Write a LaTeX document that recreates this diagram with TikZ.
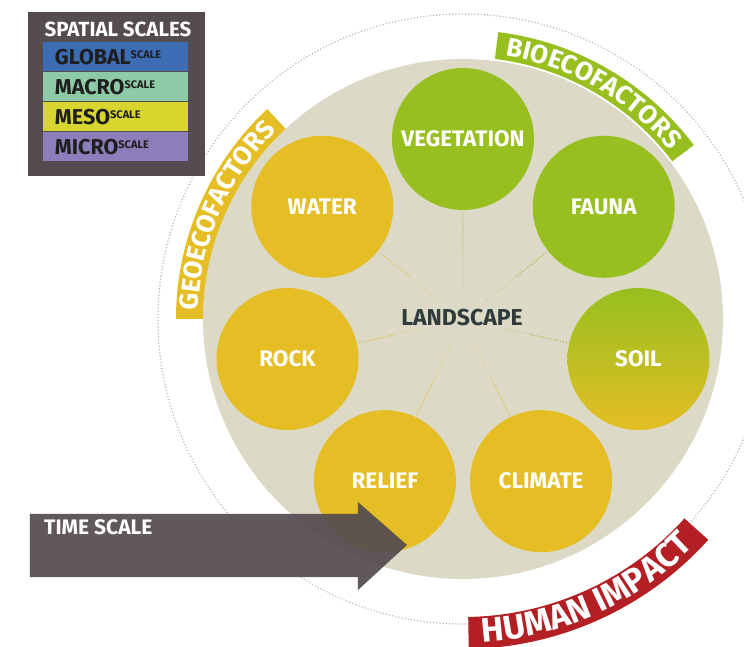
\documentclass[tikz,border=0pt]{standalone}
\usepackage{fontspec}
\setmainfont{Fira Sans}
\usetikzlibrary{decorations.text}
\definecolor{beige}{HTML}{DCD9C7}
\definecolor{ycol}{HTML}{E4BE24}
\definecolor{gcol}{HTML}{97BF1F}
\definecolor{dgray}{HTML}{544C50}
\definecolor{rcol}{HTML}{B41F24}
\definecolor{bluer}{HTML}{3B6CB4}
\definecolor{macror}{HTML}{8DCBA6}
\definecolor{mesor}{HTML}{D7D52E}
\definecolor{micror}{HTML}{8B7EBA}
\definecolor{ltext}{HTML}{2F3B3B}
\definecolor{legtext}{HTML}{1E1E1E}
\definecolor{dotgray}{HTML}{B8B8B8}
\newcommand\bannerfont{\color{white}\bfseries\fontsize{26}{26}\selectfont}
\newcommand\humanfont{\color{white}\bfseries\fontsize{34}{34}\selectfont}
\newcommand\supscale[1]{\raisebox{6pt}{\fontsize{11}{11}\selectfont #1}}
\begin{document}
\begin{tikzpicture}[x=1pt,y=1pt,
  fac/.style={circle, minimum size=142pt, inner sep=0pt, text=white,
    font=\bfseries\fontsize{22.5}{22.5}\selectfont},
  yfac/.style={fac, fill=ycol},
  gfac/.style={fac, fill=gcol},
  spoke/.style={line width=1.4pt, line cap=round, dash pattern=on 0pt off 3pt},
  rowbox/.style={minimum width=145pt, minimum height=29pt, inner sep=0pt},
  rowtxt/.style={anchor=west, text=legtext, inner sep=0pt,
    font=\bfseries\fontsize{21.5}{21.5}\selectfont},
  band/.style={decorate, decoration={text along path, text align=center}}
]
\useasboundingbox (-463,-328) rectangle (281,319);
\fill[white] (-463,-328) rectangle (281,319);

% outer dotted circle
\draw[dotgray, line width=1.6pt, line cap=round, dash pattern=on 0pt off 3.2pt] (0,0) circle[radius=305pt];

% landscape disc
\fill[beige] (0,0) circle[radius=260pt];

% banners
\fill[ycol] (133:260pt) arc[start angle=133, end angle=180, radius=260pt]
  -- (180:287pt) arc[start angle=180, end angle=133, radius=287pt] -- cycle;
\fill[gcol] (37:262pt) arc[start angle=37, end angle=83, radius=262pt]
  -- (83:289pt) arc[start angle=83, end angle=37, radius=289pt] -- cycle;
\fill[rcol] (-89:298pt) arc[start angle=-89, end angle=-42, radius=298pt]
  -- (-42:330pt) arc[start angle=-42, end angle=-89, radius=330pt] -- cycle;

\path[band, decoration={text={|\bannerfont|GEOECOFACTORS}}]
  (190:265pt) arc[start angle=190, end angle=123, radius=265pt];
\path[band, decoration={text={|\bannerfont|BIOECOFACTORS}}]
  (95:267pt) arc[start angle=95, end angle=25, radius=267pt];
\path[band, decoration={text={|\humanfont|HUMAN IMPACT}}]
  (-100:324pt) arc[start angle=-100, end angle=-31, radius=324pt];

% factor circles
\node[gfac] (veg) at (90:180pt) {VEGETATION};
\node[gfac] (fauna) at (38.57:180pt) {FAUNA};
\node[fac, top color=gcol, bottom color=ycol] (soil) at (-12.86:180pt) {SOIL};
\node[yfac] (climate) at (-64.29:180pt) {CLIMATE};
\node[yfac] (relief) at (-115.71:180pt) {RELIEF};
\node[yfac] (rock) at (-167.14:180pt) {ROCK};
\node[yfac] (water) at (141.43:180pt) {WATER};

% centre
\coordinate (ctr) at (0,0);
\foreach \n/\c in {veg/gcol, fauna/gcol, soil/gcol, climate/ycol, relief/ycol, rock/ycol, water/ycol}{
  \draw[spoke, draw=\c!40!beige, shorten <=28pt, shorten >=40pt] (ctr) -- (\n);
  \draw[spoke, draw=\c, shorten <=70pt] (ctr) -- (\n);
}
\node[fill=beige, text=ltext, inner sep=2pt, font=\bfseries\fontsize{23}{23}\selectfont] (land) at (-1,1) {LANDSCAPE};

% legend
\fill[dgray] (-435,143) rectangle (-258,307);
\node[text=white, font=\bfseries\fontsize{20.5}{20.5}\selectfont] (ttl) at (-345,290) {SPATIAL SCALES};
\node[rowbox, fill=bluer] (glob) at (-347.5,262.5) {};
\node[rowbox, fill=macror] (macro) at (-347.5,232.5) {};
\node[rowbox, fill=mesor] (meso) at (-347.5,202.5) {};
\node[rowbox, fill=micror] (micro) at (-347.5,172.5) {};
\node[rowtxt] (globt) at ([xshift=12pt,yshift=-1pt]glob.west) {GLOBAL\supscale{SCALE}};
\node[rowtxt] (macrot) at ([xshift=12pt,yshift=-1pt]macro.west) {MACRO\supscale{SCALE}};
\node[rowtxt] (mesot) at ([xshift=12pt,yshift=-1pt]meso.west) {MESO\supscale{SCALE}};
\node[rowtxt] (microt) at ([xshift=12pt,yshift=-1pt]micro.west) {MICRO\supscale{SCALE}};

% time scale arrow
\fill[dgray, opacity=0.93] (-433,-195) -- (-105,-195) -- (-105,-183) -- (-56,-226)
  -- (-105,-271) -- (-105,-258) -- (-433,-258) -- cycle;
\node[anchor=west, text=white, inner sep=0pt, font=\bfseries\fontsize{21}{21}\selectfont] (ts) at (-419,-208) {TIME SCALE};
\end{tikzpicture}
\end{document}
